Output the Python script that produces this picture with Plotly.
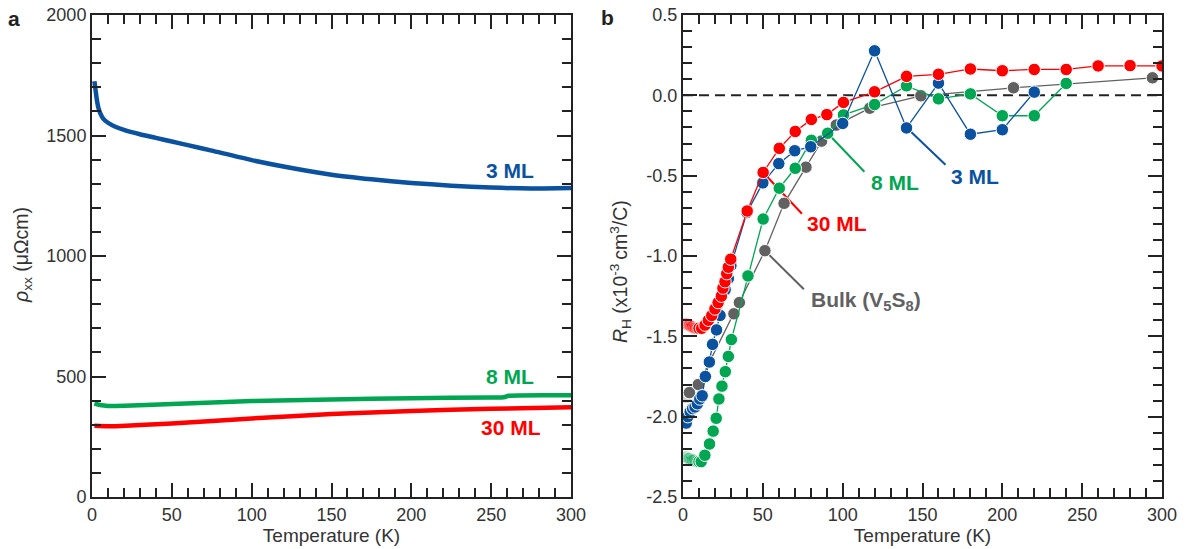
import plotly.graph_objects as go

# ---------------- Panel a: resistivity vs temperature ----------------
T_a_3ML = [1.5, 2, 3, 4, 5, 7, 10, 15, 20, 30, 40, 50, 60, 75, 100, 125, 150, 175, 200, 225, 250, 275, 300]
rho_3ML = [1725, 1700, 1650, 1615, 1595, 1570, 1553, 1535, 1523, 1505, 1490, 1475, 1460, 1437, 1398, 1365,
           1337, 1318, 1303, 1292, 1284, 1280, 1282]
T_a_8ML = [1.5, 5, 10, 15, 25, 50, 100, 150, 200, 250, 258, 261, 300]
rho_8ML = [388, 382, 378, 378, 380, 386, 398, 405, 410, 413, 414, 420, 422]
T_a_30ML = [1.5, 10, 15, 50, 100, 150, 200, 250, 300]
rho_30ML = [296, 294, 294, 305, 326, 344, 357, 366, 372]

# ---------------- Panel b: Hall coefficient vs temperature ----------------
T_b_3ML = [2, 3, 4.5, 6, 7.5, 9, 10.5, 12, 14, 16.5, 18.5, 21, 23.2, 26.4, 28.4, 30, 40, 50, 60, 70, 80,
           100, 120, 140, 160, 180, 200, 220]
RH_3ML = [-2.04, -2.00, -1.97, -1.95, -1.94, -1.92, -1.89, -1.87, -1.75, -1.66, -1.55, -1.46, -1.37, -1.21,
          -1.14, -1.06, -0.73, -0.545, -0.425, -0.345, -0.32, -0.175, 0.277, -0.203, 0.076, -0.242, -0.214, 0.02]

T_b_8ML = [2, 3, 4, 5, 6, 7, 8, 9, 10, 11.4, 13.7, 16.6, 18.9, 20.8, 22.5, 24.4, 26.5, 28.4, 30.3, 40.7,
           50.2, 60.3, 70.3, 80.4, 90.6, 100.5, 120, 140, 160, 180, 200, 220, 240]
RH_8ML = [-2.25, -2.26, -2.26, -2.27, -2.27, -2.27, -2.28, -2.28, -2.28, -2.28, -2.24, -2.17, -2.09, -2.01,
          -1.89, -1.81, -1.72, -1.625, -1.52, -1.124, -0.77, -0.578, -0.454, -0.28, -0.236, -0.122, -0.057,
          0.059, -0.022, 0.009, -0.127, -0.127, 0.074]

T_b_30ML = [2, 3, 4, 5, 6, 7, 8, 9, 10, 11.7, 13.8, 15.9, 18, 20, 22, 24, 25, 26.3, 27.4, 28.4, 29.9, 40.2,
            50.2, 60.3, 70.3, 80.4, 90.1, 100.5, 120, 140, 160, 180, 200, 220, 240, 260, 280, 300]
RH_30ML = [-1.42, -1.43, -1.43, -1.44, -1.44, -1.45, -1.45, -1.45, -1.45, -1.45, -1.43, -1.40, -1.37, -1.33,
           -1.29, -1.25, -1.20, -1.16, -1.11, -1.07, -1.02, -0.72, -0.48, -0.33, -0.225, -0.15, -0.12, -0.044,
           0.022, 0.118, 0.131, 0.164, 0.153, 0.161, 0.161, 0.183, 0.185, 0.183]

T_b_bulk = [2, 4, 9.6, 31.9, 35.3, 51.3, 63.3, 77, 86.8, 96, 117, 149, 207, 294]
RH_bulk = [-1.88, -1.85, -1.80, -1.36, -1.29, -0.967, -0.672, -0.447, -0.285, -0.185, -0.08, -0.003, 0.047, 0.109]

x_ticks = [0, 50, 100, 150, 200, 250, 300]
ya_ticks = [0, 500, 1000, 1500, 2000]
yb_ticks = [-2.5, -2.0, -1.5, -1.0, -0.5, 0.0, 0.5]
yb_ticktext = ["-2.5", "-2.0", "-1.5", "-1.0", "-0.5", "0.0", "0.5"]

BLUE = "#0a52a0"
GREEN = "#00a651"
RED = "#ff0000"
GRAY = "#616161"
AX = "#222222"
TXT = "#333333"
FONT = "Liberation Sans, Arial, sans-serif"

W, H = 1193, 549


def px_x(p):
    return p / W


def px_y(p):
    return 1 - p / H


fig = go.Figure()

# panel a curves
for T, v, c in [(T_a_30ML, rho_30ML, RED), (T_a_8ML, rho_8ML, GREEN), (T_a_3ML, rho_3ML, BLUE)]:
    fig.add_trace(go.Scatter(x=T, y=v, mode="lines", line=dict(color=c, width=4.5, shape="spline", smoothing=0.6),
                             xaxis="x", yaxis="y", showlegend=False, hoverinfo="skip"))


def faded(T, limit):
    return [0.3 if t < limit else 1.0 for t in T]


# panel b series
for T, v, c, op in [(T_b_bulk, RH_bulk, GRAY, faded(T_b_bulk, 3)),
                    (T_b_8ML, RH_8ML, GREEN, faded(T_b_8ML, 10)),
                    (T_b_3ML, RH_3ML, BLUE, faded(T_b_3ML, 0)),
                    (T_b_30ML, RH_30ML, RED, faded(T_b_30ML, 10))]:
    fig.add_trace(go.Scatter(x=T, y=v, mode="lines+markers",
                             line=dict(color=c, width=1.3),
                             marker=dict(color=c, size=12.5, opacity=op, line=dict(color="white", width=1)),
                             xaxis="x2", yaxis="y2", showlegend=False, hoverinfo="skip"))

common = dict(showline=True, linewidth=2, linecolor=AX, mirror="allticks", ticks="inside", ticklen=14,
              tickwidth=2, tickcolor=AX, showgrid=False, zeroline=False, automargin=False,
              tickfont=dict(family=FONT, size=18, color=TXT))

xa = dict(common, range=[0, 300], tickmode="array", tickvals=x_ticks,
          minor=dict(ticks="inside", ticklen=9, tickwidth=2, tickcolor=AX, tickmode="linear", tick0=0, dtick=10),
          title=dict(text="Temperature (K)", font=dict(family=FONT, size=19, color=TXT), standoff=4))

fig.update_layout(
    width=W, height=H, margin=dict(l=0, r=0, t=0, b=0, autoexpand=False),
    paper_bgcolor="white", plot_bgcolor="white",
    font=dict(family=FONT, color=TXT),
    xaxis=dict(xa, domain=[px_x(92), px_x(571)], anchor="y"),
    yaxis=dict(common, domain=[px_y(497), px_y(15)], range=[0, 2000], anchor="x",
               tickmode="array", tickvals=ya_ticks,
               minor=dict(ticks="inside", ticklen=9, tickwidth=2, tickcolor=AX, tickmode="linear", tick0=0, dtick=100)),
    xaxis2=dict(xa, domain=[px_x(683), px_x(1162)], anchor="y2"),
    yaxis2=dict(common, domain=[px_y(497), px_y(15)], range=[-2.5, 0.5], anchor="x2",
                tickmode="array", tickvals=yb_ticks, ticktext=yb_ticktext,
                minor=dict(ticks="inside", ticklen=9, tickwidth=2, tickcolor=AX, tickmode="linear", tick0=0, dtick=0.1)),
)

# zero line and leader lines (panel b)
fig.add_shape(type="line", xref="x2", yref="y2", x0=0, x1=300, y0=0, y1=0, layer="below",
              line=dict(color=AX, width=2, dash="10px,6px"))
leaders = [((90.6, -0.236), (113.6, -0.476), GREEN),
           ((140.3, -0.203), (164.4, -0.432), BLUE),
           ((50.2, -0.48), (74.5, -0.737), RED),
           ((51.3, -0.967), (75.7, -1.207), GRAY)]
for (x0, y0), (x1, y1), c in leaders:
    fig.add_shape(type="line", xref="x2", yref="y2", x0=x0, y0=y0, x1=x1, y1=y1, layer="below",
                  line=dict(color=c, width=2))

lab_font = dict(family=FONT, size=21)
labels_a = [("<b>3 ML</b>", 262, 1353, BLUE), ("<b>8 ML</b>", 262, 502, GREEN), ("<b>30 ML</b>", 262.4, 288, RED)]
for t, x, y, c in labels_a:
    fig.add_annotation(text=t, x=x, y=y, xref="x", yref="y", showarrow=False,
                       font=dict(lab_font, color=c), xanchor="center", yanchor="middle")
labels_b = [("<b>8 ML</b>", 132.5, -0.54, GREEN), ("<b>3 ML</b>", 182.6, -0.508, BLUE),
            ("<b>30 ML</b>", 96.5, -0.80, RED), ("<b>Bulk (V<sub>5</sub>S<sub>8</sub>)</b>", 114.7, -1.283, GRAY)]
for t, x, y, c in labels_b:
    fig.add_annotation(text=t, x=x, y=y, xref="x2", yref="y2", showarrow=False,
                       font=dict(lab_font, color=c), xanchor="center", yanchor="middle")

# axis titles (y) and panel letters
fig.add_annotation(text="<i>ρ</i><sub>xx</sub> (μΩcm)", x=px_x(22), y=px_y(255), xref="paper", yref="paper",
                   textangle=-90, showarrow=False, font=dict(family=FONT, size=19.5, color=TXT),
                   xanchor="center", yanchor="middle")
fig.add_annotation(text="<i>R</i><sub>H</sub> (x10<sup>-3 </sup>cm<sup>3</sup>/C)", x=px_x(620), y=px_y(272),
                   xref="paper", yref="paper", textangle=-90, showarrow=False,
                   font=dict(family=FONT, size=19.5, color=TXT), xanchor="center", yanchor="middle")
fig.add_annotation(text="<b>a</b>", x=px_x(14), y=px_y(18), xref="paper", yref="paper", showarrow=False,
                   font=dict(family=FONT, size=21, color=AX), xanchor="center", yanchor="middle")
fig.add_annotation(text="<b>b</b>", x=px_x(607), y=px_y(17), xref="paper", yref="paper", showarrow=False,
                   font=dict(family=FONT, size=21, color=AX), xanchor="center", yanchor="middle")

fig.write_html("out.html", config={"displayModeBar": False},
               post_script="document.body.style.margin='0';document.body.style.overflow='hidden';")
